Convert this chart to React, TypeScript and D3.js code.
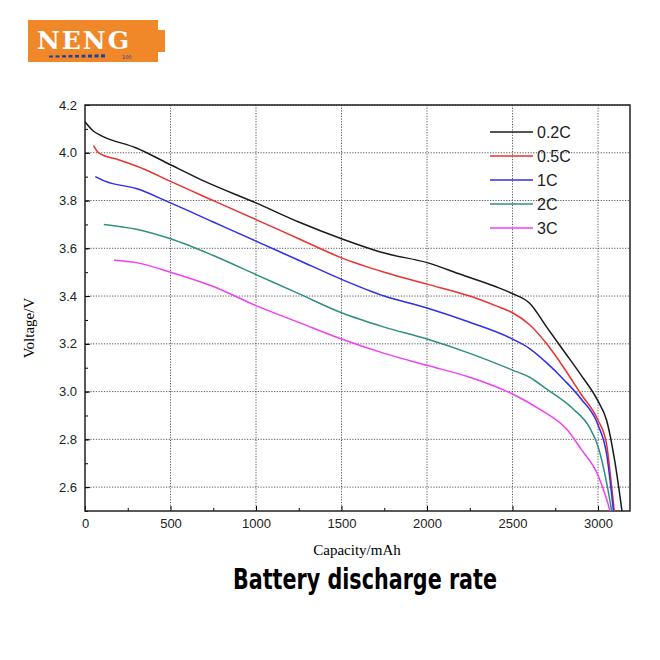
import { useRef, useEffect } from "react";
import * as d3 from "d3";

const seriesNames = ["0.2C", "0.5C", "1C", "2C", "3C"];
const seriesColors = ["#1a1a1a", "#e8332f", "#2f2fe8", "#2f8f80", "#f040f0"];

const c02: [number, number][] = [[0,4.13],[50,4.09],[100,4.07],[300,4.02],[500,3.95],[700,3.88],[1000,3.79],[1250,3.71],[1500,3.64],[1750,3.58],[2000,3.54],[2200,3.49],[2400,3.44],[2500,3.41],[2600,3.37],[2700,3.27],[2800,3.17],[2900,3.07],[3000,2.96],[3050,2.88],[3100,2.7],[3140,2.5]];
const c05: [number, number][] = [[50,4.03],[80,4.0],[200,3.97],[350,3.93],[500,3.88],[750,3.8],[1000,3.72],[1250,3.64],[1500,3.56],[1750,3.5],[2000,3.45],[2250,3.4],[2400,3.36],[2500,3.33],[2600,3.28],[2700,3.2],[2800,3.1],[2900,2.99],[3000,2.88],[3050,2.78],[3080,2.6],[3095,2.5]];
const c1: [number, number][] = [[60,3.9],[120,3.88],[300,3.85],[500,3.79],[750,3.71],[1000,3.63],[1250,3.55],[1500,3.47],[1750,3.4],[2000,3.35],[2250,3.29],[2500,3.22],[2600,3.18],[2700,3.12],[2800,3.05],[2900,2.97],[3000,2.86],[3050,2.74],[3090,2.5]];
const c2: [number, number][] = [[110,3.7],[300,3.68],[500,3.64],[750,3.57],[1000,3.49],[1250,3.41],[1500,3.33],[1750,3.27],[2000,3.22],[2250,3.16],[2500,3.09],[2600,3.06],[2700,3.01],[2850,2.93],[2950,2.85],[3000,2.77],[3050,2.62],[3080,2.5]];
const c3: [number, number][] = [[170,3.55],[300,3.54],[500,3.5],[750,3.44],[1000,3.36],[1250,3.29],[1500,3.22],[1750,3.16],[2000,3.11],[2250,3.06],[2500,2.99],[2650,2.93],[2820,2.84],[2900,2.76],[3000,2.65],[3050,2.55],[3070,2.5]];
const seriesData = [c02, c05, c1, c2, c3];

const xTicks = [0, 500, 1000, 1500, 2000, 2500, 3000];
const yTicks = [2.6, 2.8, 3.0, 3.2, 3.4, 3.6, 3.8, 4.0, 4.2];

const App = () => {
  const ref = useRef<SVGSVGElement>(null);

  useEffect(() => {
    if (!ref.current) return;
    const svg = d3.select(ref.current);
    const left = 85, right = 630, top = 105, bottom = 511;
    const x = d3.scaleLinear().domain([0, 3187]).range([left, right]);
    const y = d3.scaleLinear().domain([2.5, 4.2]).range([bottom, top]);

    // logo
    const logo = svg.append("g");
    logo.append("rect").attr("x", 28).attr("y", 20).attr("width", 130).attr("height", 42).attr("fill", "#f0882a");
    logo.append("rect").attr("x", 158).attr("y", 30).attr("width", 7).attr("height", 22).attr("fill", "#f0882a");
    logo.append("text").attr("x", 84).attr("y", 49).attr("text-anchor", "middle")
      .style("font-family", "DejaVu Serif, serif").style("font-weight", "bold").style("font-size", "25px")
      .style("letter-spacing", "2px").attr("fill", "#fff").text("NENG");
    d3.range(9).forEach((i) => {
      logo.append("rect").attr("x", 49 + i * 6.5).attr("y", 55.5 - i * 0.15).attr("width", 4).attr("height", 2 + i * 0.15).attr("fill", "#2040a0");
    });
    logo.append("text").attr("x", 122).attr("y", 59).style("font-size", "5px").style("font-family", "DejaVu Sans").attr("fill", "#2040a0").text("100");

    // grid
    const grid = svg.append("g").attr("stroke", "#444").attr("stroke-dasharray", "1.2,1.5").attr("stroke-width", 0.9);
    xTicks.slice(1).forEach((t) => grid.append("line").attr("x1", x(t)).attr("x2", x(t)).attr("y1", top).attr("y2", bottom));
    yTicks.forEach((t) => grid.append("line").attr("x1", left).attr("x2", right).attr("y1", y(t)).attr("y2", y(t)));

    // axes
    svg.append("g").attr("transform", `translate(0,${bottom})`)
      .call(d3.axisBottom(x).tickValues(xTicks).tickSize(-5).tickPadding(8).tickFormat(d3.format("d")))
      .call((g: any) => g.select(".domain").remove())
      .call((g: any) => g.selectAll("text").style("font-family", "Liberation Sans, Arial").style("font-size", "13px").attr("fill", "#222"));
    svg.append("g").attr("transform", `translate(0,${bottom})`)
      .call(d3.axisBottom(x).tickValues(d3.range(250, 3200, 500)).tickSize(-3).tickFormat(() => ""))
      .call((g: any) => g.select(".domain").remove());
    svg.append("g").attr("transform", `translate(${left},0)`)
      .call(d3.axisLeft(y).tickValues(yTicks).tickSize(-5).tickPadding(8).tickFormat(d3.format(".1f")))
      .call((g: any) => g.select(".domain").remove())
      .call((g: any) => g.selectAll("text").style("font-family", "Liberation Sans, Arial").style("font-size", "13px").attr("fill", "#222"));
    svg.append("g").attr("transform", `translate(${left},0)`)
      .call(d3.axisLeft(y).tickValues(d3.range(2.5, 4.2, 0.1).map((v) => +v.toFixed(1))).tickSize(-3).tickFormat(() => ""))
      .call((g: any) => g.select(".domain").remove());
    svg.append("rect").attr("x", left).attr("y", top).attr("width", right - left).attr("height", bottom - top)
      .attr("fill", "none").attr("stroke", "#222").attr("stroke-width", 1.5);

    // lines
    const line = d3.line<[number, number]>().x((d) => x(d[0])).y((d) => y(d[1])).curve(d3.curveMonotoneX);
    seriesData.forEach((s, i) => {
      svg.append("path").datum(s).attr("d", line).attr("fill", "none").attr("stroke", seriesColors[i]).attr("stroke-width", 1.5);
    });

    // legend
    seriesNames.forEach((n, i) => {
      const ly = 132 + i * 24;
      svg.append("line").attr("x1", 490).attr("x2", 533).attr("y1", ly).attr("y2", ly).attr("stroke", seriesColors[i]).attr("stroke-width", 1.5);
      svg.append("text").attr("x", 537).attr("y", ly + 6).style("font-family", "Liberation Sans, Arial").style("font-size", "16px").attr("fill", "#222").text(n);
    });

    // titles
    svg.append("text").attr("x", 357).attr("y", 555).attr("text-anchor", "middle")
      .style("font-family", "Liberation Serif, serif").style("font-size", "15px").text("Capacity/mAh");
    svg.append("text").attr("transform", `translate(34,${(top + bottom) / 2 + 20}) rotate(-90)`).attr("text-anchor", "middle")
      .style("font-family", "Liberation Serif, serif").style("font-size", "15px").text("Voltage/V");
    svg.append("text").attr("x", 233).attr("y", 589)
      .attr("textLength", 264).attr("lengthAdjust", "spacingAndGlyphs")
      .style("font-family", "DejaVu Sans Condensed, Liberation Sans Narrow, sans-serif").style("font-weight", "bold").style("font-size", "29px")
      .text("Battery discharge rate");

    return () => { svg.selectAll("*").remove(); };
  }, []);

  return <svg ref={ref} width={660} height={660} style={{ position: "absolute", left: 0, top: 0, background: "#fff" }} />;
};

export default App;
